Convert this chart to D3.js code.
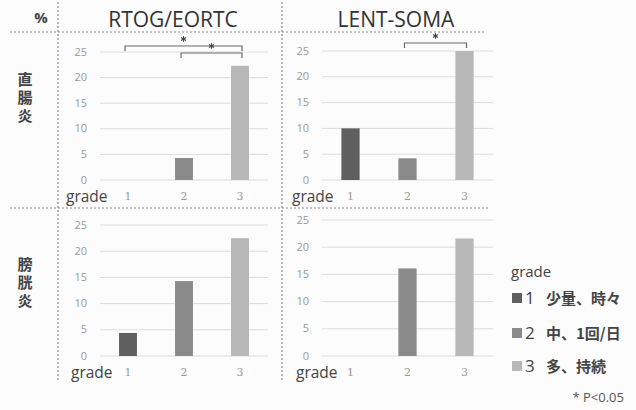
<!DOCTYPE html>
<html>
<head>
<meta charset="utf-8">
<script src="https://cdn.jsdelivr.net/npm/d3@7"></script>
<style>
  body { margin: 0; background: #fcfcfc; }
  svg { display: block; }
</style>
</head>
<body>
<div id="chart"></div>
<script>
// data
var grades = ["1", "2", "3"];
var yTicks = [0, 5, 10, 15, 20, 25];
var columnTitles = ["RTOG/EORTC", "LENT-SOMA"];
var rowTitles = ["直腸炎", "膀胱炎"];
var rtogRectal = [0, 4.3, 22.3];
var lentRectal = [10, 4.2, 25];
var rtogBladder = [4.4, 14.3, 22.5];
var lentBladder = [0, 16.1, 21.6];
var legendLabels = ["少量、時々", "中、1回/日", "多、持続"];
// significance pairs (grade a vs grade b)
var rtogRectalSig = [["1", "3"], ["2", "3"]];
var lentRectalSig = [["2", "3"]];

var W = 636, H = 410;
var colors = ["#5f5f5f", "#8a8a8a", "#b7b7b7"];
var jp = "'Noto Sans CJK JP', 'Noto Sans', sans-serif";

var svg = d3.select("#chart").append("svg")
    .attr("width", W)
    .attr("height", H);

svg.append("rect").attr("width", W).attr("height", H).attr("fill", "#fcfcfc");

// dotted frame lines
var dot = svg.append("g")
    .attr("stroke", "#8a8a8a")
    .attr("stroke-width", 1.2)
    .attr("stroke-dasharray", "2,2");
dot.append("line").attr("x1", 10).attr("x2", 486).attr("y1", 32).attr("y2", 32);
dot.append("line").attr("x1", 10).attr("x2", 490).attr("y1", 208).attr("y2", 208);
dot.append("line").attr("x1", 58).attr("x2", 58).attr("y1", 2).attr("y2", 380);
dot.append("line").attr("x1", 282).attr("x2", 282).attr("y1", 2).attr("y2", 380);

// headers
svg.append("text").attr("x", 41).attr("y", 23)
    .attr("text-anchor", "middle")
    .style("font", "bold 15px 'Open Sans', sans-serif")
    .attr("fill", "#444").text("%");

var titleX = [173, 396];
columnTitles.forEach(function(t, i) {
  svg.append("text").attr("x", titleX[i]).attr("y", 27)
      .attr("text-anchor", "middle")
      .style("font", "21px 'Open Sans', sans-serif")
      .attr("fill", "#333").text(t);
});

// row titles, written top to bottom
var rowY = [72, 257];
rowTitles.forEach(function(t, r) {
  svg.append("text").attr("x", 25).attr("y", rowY[r])
      .style("writing-mode", "vertical-rl")
      .style("font-family", jp).style("font-size", "15px").style("font-weight", "bold")
      .style("letter-spacing", "3px")
      .attr("fill", "#444").text(t);
});

var star = d3.symbol().type(d3.symbolAsterisk).size(22);

// one panel = a small bar chart
function panel(values, sig, x0, x1, yZero, yTop, labelX, gradeX, brackets) {
  var x = d3.scaleBand().domain(grades).range([x0, x1])
      .paddingInner(0.68).paddingOuter(0.34);
  var y = d3.scaleLinear().domain([0, 25]).range([yZero, yTop]);
  var g = svg.append("g");

  g.selectAll(".grid").data(yTicks).enter().append("line")
      .attr("x1", x0).attr("x2", x1)
      .attr("y1", function(d) { return y(d); })
      .attr("y2", function(d) { return y(d); })
      .attr("stroke", "#dcdcdc").attr("stroke-width", 1);

  g.selectAll(".yl").data(yTicks).enter().append("text")
      .attr("x", labelX).attr("y", function(d) { return y(d) + 3.5; })
      .attr("text-anchor", "end")
      .style("font", "11px 'Open Sans', sans-serif")
      .attr("fill", "#999").text(function(d) { return d; });

  g.selectAll(".bar").data(values).enter().append("rect")
      .attr("x", function(d, i) { return x(grades[i]); })
      .attr("width", x.bandwidth())
      .attr("y", function(d) { return y(d); })
      .attr("height", function(d) { return yZero - y(d); })
      .attr("fill", function(d, i) { return colors[i]; });

  g.selectAll(".xl").data(grades).enter().append("text")
      .attr("x", function(d) { return x(d) + x.bandwidth() / 2; })
      .attr("y", yZero + 20)
      .attr("text-anchor", "middle")
      .style("font", "11px 'DejaVu Serif', serif")
      .attr("fill", "#999").text(function(d) { return d; });

  g.append("text").attr("x", gradeX).attr("y", yZero + 22)
      .style("font", "15.5px 'Open Sans', sans-serif")
      .attr("fill", "#444").text("grade");

  // significance brackets with asterisk
  sig.forEach(function(p, k) {
    var a = x(p[0]) + x.bandwidth() / 2 - 3, b = x(p[1]) + x.bandwidth() / 2 + 2;
    var by = brackets[k];
    g.append("path")
        .attr("d", "M" + a + "," + (by + 5) + "V" + by + "H" + b + "V" + (by + 5))
        .attr("fill", "none").attr("stroke", "#666").attr("stroke-width", 1.2);
    g.append("path").attr("d", star)
        .attr("transform", "translate(" + ((a + b) / 2) + "," + (by - 7) + ")")
        .attr("fill", "none").attr("stroke", "#444").attr("stroke-width", 1.1);
  });
}

panel(rtogRectal, rtogRectalSig, 100, 268, 180, 52, 87, 66, [46, 53]);
panel(lentRectal, lentRectalSig, 322, 493, 180, 51, 309, 292, [43]);
panel(rtogBladder, [], 100, 268, 356, 225, 87, 71, []);
panel(lentBladder, [], 322, 493, 356, 220, 309, 296, []);

// legend
svg.append("text").attr("x", 511).attr("y", 277)
    .style("font", "15px 'Open Sans', sans-serif")
    .attr("fill", "#444").text("grade");

var legY = [298, 333, 366];
legendLabels.forEach(function(t, i) {
  svg.append("rect").attr("x", 512).attr("y", legY[i] - 5)
      .attr("width", 10).attr("height", 10).attr("fill", colors[i]);
  svg.append("text").attr("x", 525).attr("y", legY[i] + 6)
      .style("font", "17px 'Open Sans', sans-serif")
      .attr("fill", "#444").text(grades[i]);
  svg.append("text").attr("x", 546).attr("y", legY[i] + 6)
      .style("font-family", jp).style("font-size", "15px").style("font-weight", "bold")
      .attr("fill", "#444").text(t);
});

svg.append("text").attr("x", 624).attr("y", 402)
    .attr("text-anchor", "end")
    .style("font", "13px 'Open Sans', sans-serif")
    .attr("fill", "#555").text("* P<0.05");
</script>
</body>
</html>
